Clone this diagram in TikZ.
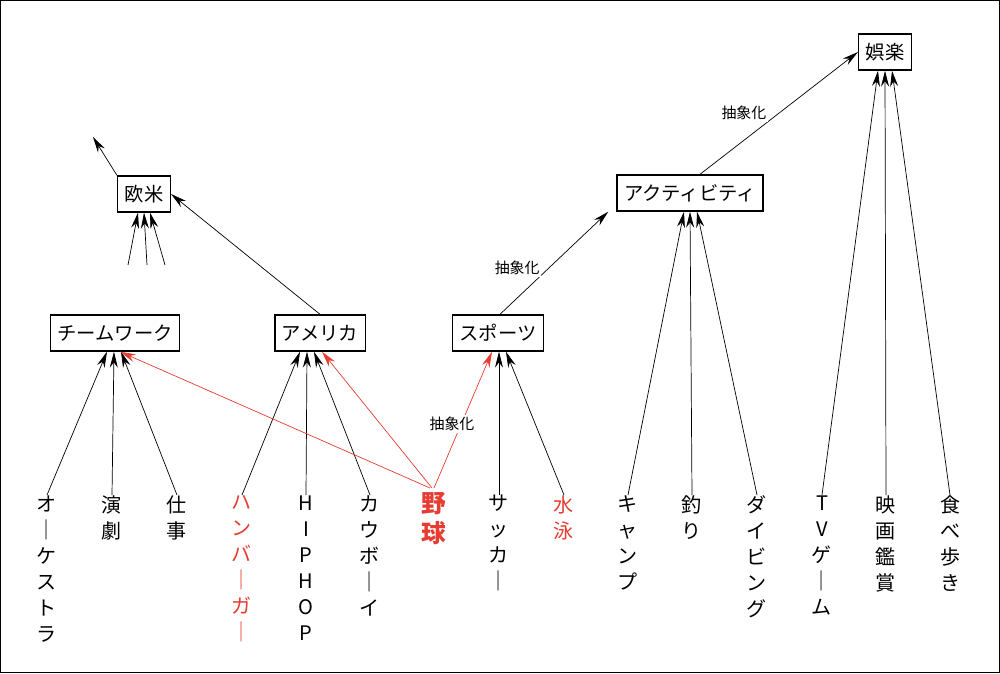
\documentclass[tikz,border=0pt]{standalone}
\usepackage{fontspec}
\setmainfont{Noto Sans CJK JP}
\usetikzlibrary{arrows.meta,calc}
\definecolor{hilite}{RGB}{230,60,50}
\tikzset{
  box/.style={draw, thick, inner sep=4pt, minimum height=0.72cm, font=\fontsize{11}{13}\selectfont},
  word/.style={anchor=north, align=center, inner sep=0pt, font=\fontsize{11.4}{14.8}\selectfont},
  line/.style={draw, -{Stealth[length=9pt,width=4.5pt]}},
  redline/.style={line, hilite},
  tag/.style={font=\fontsize{8.5}{10}\selectfont, fill=white, inner sep=1pt}
}
\begin{document}
\begin{tikzpicture}[x=0.02cm,y=-0.02cm]
\draw (0.5,0.5) rectangle (999.5,672.5);
\useasboundingbox (0,0) rectangle (1000,673);
% boxes
\node [box] (goraku) at (885,52) {娯楽};
\node [box] (activity) at (690,193) {アクティビティ};
\node [box] (oubei) at (144,194) {欧米};
\node [box] (team) at (115,333) {チームワーク};
\node [box] (america) at (320,333) {アメリカ};
\node [box] (sports) at (498,333) {スポーツ};
% words
\node [word] (orch) at (47,495) {オ\\｜\\ケ\\ス\\ト\\ラ};
\node [word] (engeki) at (112,495) {演\\劇};
\node [word] (shigoto) at (177,495) {仕\\事};
\node [word, hilite] (burger) at (242,495) {ハ\\ン\\バ\\｜\\ガ\\｜};
\node [word] (hiphop) at (306,495) {H\\I\\P\\H\\O\\P};
\node [word] (cowboy) at (370,495) {カ\\ウ\\ボ\\｜\\イ};
\node [word, hilite, font=\bfseries\fontsize{14}{17}\selectfont] (yakyu) at (434,492) {野\\球};
\node [word] (soccer) at (499,495) {サ\\ッ\\カ\\｜};
\node [word, hilite] (suiei) at (564,495) {水\\泳};
\node [word] (camp) at (628,495) {キ\\ャ\\ン\\プ};
\node [word] (tsuri) at (692,495) {釣\\り};
\node [word] (diving) at (757,495) {ダ\\イ\\ビ\\ン\\グ};
\node [word] (tvgame) at (822,495) {T\\V\\ゲ\\｜\\ム};
\node [word] (eiga) at (886,495) {映\\画\\鑑\\賞};
\node [word] (tabearuki) at (950,495) {食\\べ\\歩\\き};
% arrows into boxes
\path [line] (orch.north) -- ($(team.south)+(-8,0)$);
\path [line] (engeki.north) -- ($(team.south)+(-1,0)$);
\path [line] (shigoto.north) -- ($(team.south)+(6,0)$);
\path [line] (burger.north) -- ($(america.south)+(-20,0)$);
\path [line] (hiphop.north) -- ($(america.south)+(-13,0)$);
\path [line] (cowboy.north) -- ($(america.south)+(-6,0)$);
\path [line] (soccer.north) -- ($(sports.south)+(1,0)$);
\path [line] (suiei.north) -- ($(sports.south)+(8,0)$);
\path [line] (camp.north) -- ($(activity.south)+(-6,0)$);
\path [line] (tsuri.north) -- ($(activity.south)+(0,0)$);
\path [line] (diving.north) -- ($(activity.south)+(7,0)$);
\path [line] (tvgame.north) -- ($(goraku.south)+(-7,0)$);
\path [line] (eiga.north) -- ($(goraku.south)+(0,0)$);
\path [line] (tabearuki.north) -- ($(goraku.south)+(7,0)$);
% red links
\path [redline] ($(yakyu.north)+(-4,-4)$) -- ($(team.south)+(5,0)$);
\path [redline] ($(yakyu.north)+(-2,-4)$) -- ($(america.south)+(2,0)$);
\path [redline] ($(yakyu.north)+(0,-4)$) -- ($(sports.south)+(-6,0)$);
% abstraction
\path [line] (america.north) -- (oubei.east);
\path [line] ($(sports.north)+(2,0)$) -- node [tag, pos=0.45, left=4pt] {抽象化} ($(activity.south west)+(-8,0)$);
\path [line] ($(activity.north)+(10,0)$) -- node [tag, pos=0.5, left=6pt] {抽象化} (goraku.west);
\node [tag] (tag3) at (452,424) {抽象化};
\coordinate (up) at (93,137);
\coordinate (a1) at (128,265);
\coordinate (a2) at (147,265);
\coordinate (a3) at (165,265);
\path [line] (oubei.north west) -- (up);
\path [line] (a1) -- ($(oubei.south)+(-6,0)$);
\path [line] (a2) -- ($(oubei.south)+(0,0)$);
\path [line] (a3) -- ($(oubei.south)+(6,0)$);
\end{tikzpicture}
\end{document}
